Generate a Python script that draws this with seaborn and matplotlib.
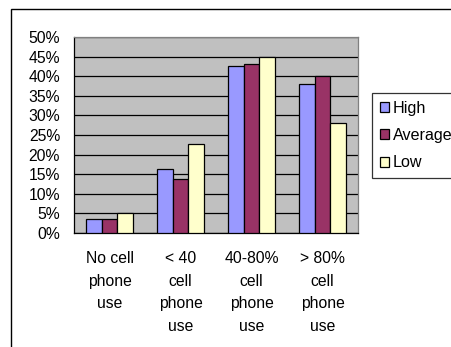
import numpy as np
import pandas as pd
import seaborn as sns
import matplotlib
matplotlib.use("Agg")
from matplotlib import pyplot as plt
from matplotlib.patches import Rectangle

categories = ["No cell\nphone\nuse", "< 40\ncell\nphone\nuse", "40-80%\ncell\nphone\nuse", "> 80%\ncell\nphone\nuse"]
levels = ["High", "Average", "Low"]
high = [3.5, 16.3, 42.5, 37.9]
average = [3.5, 13.7, 43.2, 40.1]
low = [5.1, 22.6, 44.8, 28.0]
colors = ["#9999FF", "#993366", "#FFFFCC"]

rows = []
for lvl, vals in zip(levels, [high, average, low]):
    for c, v in zip(categories, vals):
        rows.append({"cat": c, "level": lvl, "pct": v})
df = pd.DataFrame(rows)

sns.set_style("white")
plt.rcParams['font.family'] = ['Liberation Sans', 'DejaVu Sans']
plt.rcParams['text.color'] = 'black'
plt.rcParams['xtick.color'] = 'black'
plt.rcParams['ytick.color'] = 'black'
plt.rcParams['xtick.labelcolor'] = 'black'
plt.rcParams['ytick.labelcolor'] = 'black'
fs = 11.3

W, H = 451, 347
fig = plt.figure(figsize=(W / 100, H / 100), dpi=100)
ax = fig.add_axes([74 / W, 1 - 233 / H, (358 - 74) / W, (233 - 37) / H])
ax.set_facecolor("#C0C0C0")

sns.barplot(data=df, x="cat", y="pct", hue="level", palette=colors, ax=ax,
            width=0.676, edgecolor="black", linewidth=0.9, saturation=1, legend=True, zorder=3)

ax.set_xlim(-0.5, 3.5)
ax.set_ylim(0, 50)
ax.set_yticks(np.arange(0, 51, 5))
ax.set_yticklabels(["%d%%" % v for v in range(0, 51, 5)], fontsize=fs)
ax.yaxis.grid(True, color="black", linewidth=0.9, zorder=0)
ax.set_axisbelow(True)

ax.set_xticks(np.arange(-0.5, 4, 1))
ax.set_xticklabels([])
ax.set_xticks(range(4), minor=True)
ax.set_xticklabels(categories, minor=True, fontsize=fs, linespacing=1.63, va="top")
ax.tick_params(axis="x", which="major", direction="out", length=4, width=0.9, color="black")
ax.tick_params(axis="x", which="minor", length=0, pad=13)
ax.tick_params(axis="y", direction="out", length=4, width=0.9, color="black", pad=6)
ax.set_xlabel("")
ax.set_ylabel("")

for side in ["top", "right"]:
    ax.spines[side].set_color("#808080")
    ax.spines[side].set_linewidth(0.9)
for side in ["left", "bottom"]:
    ax.spines[side].set_color("black")
    ax.spines[side].set_linewidth(0.9)

# legend box runs off the right edge as in the original; labels stay inside the picture
leg = ax.legend(loc="upper left", bbox_to_anchor=(372 / W, 1 - 93 / H), bbox_transform=fig.transFigure,
                frameon=True, fancybox=False, edgecolor="black", fontsize=11.6,
                handlelength=0.58, handleheight=0.58, handletextpad=0.2, labelspacing=0.75,
                borderpad=0.5, borderaxespad=0)
leg.get_frame().set_linewidth(0.9)
for h in leg.legend_handles:
    h.set_edgecolor("black")
    h.set_linewidth(0.9)

fig.patches.append(Rectangle((11 / W, -0.1), 1.2, 1 - 9 / H + 0.1, transform=fig.transFigure,
                             fill=False, edgecolor="black", linewidth=1.0, clip_on=False))

fig.savefig("out.png", dpi=100)
